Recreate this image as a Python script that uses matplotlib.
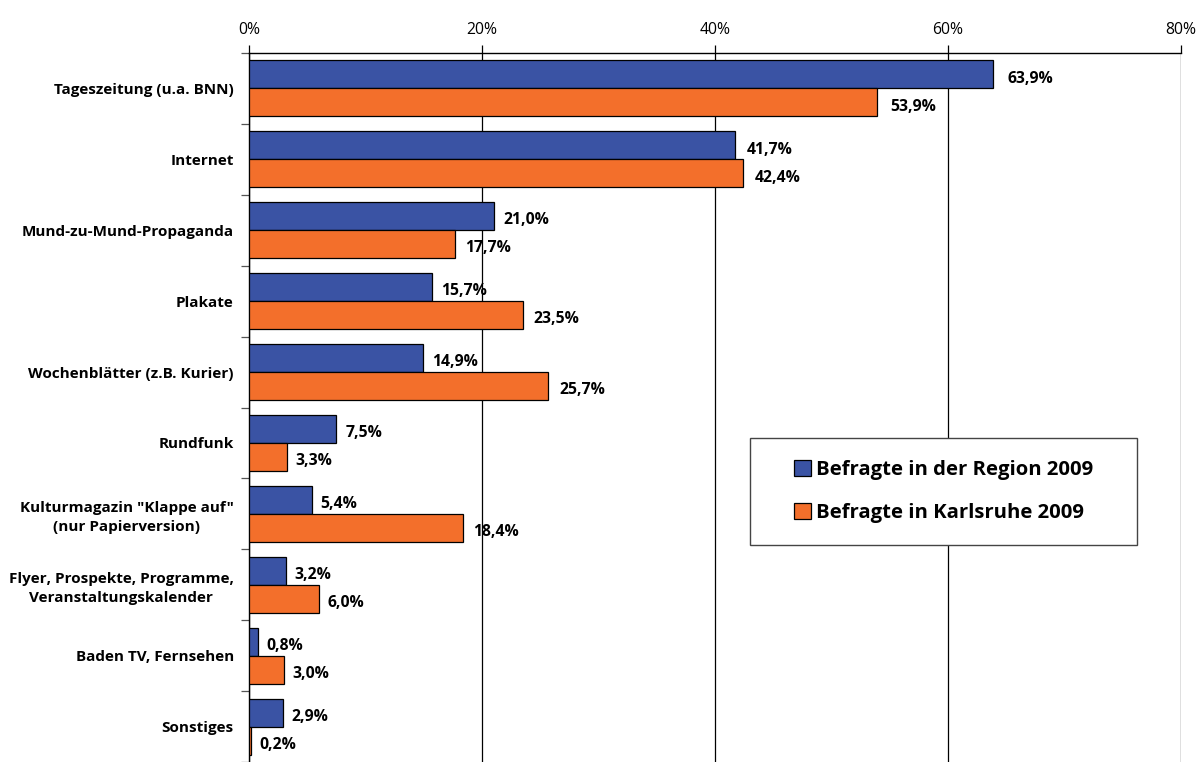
import numpy as np
import matplotlib.pyplot as plt
from matplotlib.patches import Rectangle
from matplotlib.ticker import FuncFormatter

plt.rcParams['font.family'] = ['Open Sans', 'DejaVu Sans']

kategorien = [
    'Tageszeitung (u.a. BNN)',
    'Internet',
    'Mund-zu-Mund-Propaganda',
    'Plakate',
    'Wochenblätter (z.B. Kurier)',
    'Rundfunk',
    'Kulturmagazin "Klappe auf"\n(nur Papierversion)',
    'Flyer, Prospekte, Programme,\nVeranstaltungskalender',
    'Baden TV, Fernsehen',
    'Sonstiges',
]
region_2009 = [63.9, 41.7, 21.0, 15.7, 14.9, 7.5, 5.4, 3.2, 0.8, 2.9]
karlsruhe_2009 = [53.9, 42.4, 17.7, 23.5, 25.7, 3.3, 18.4, 6.0, 3.0, 0.2]
serien = ['Befragte in der Region 2009', 'Befragte in Karlsruhe 2009']
farben = ['#3A53A4', '#F36F2B']

fig = plt.figure(figsize=(11.99, 7.62), dpi=100)
ax = fig.add_axes([0.2077, 0.0, 0.7773, 0.9304])

y = np.arange(len(kategorien))
h = 0.395
for i, (werte, farbe, name) in enumerate(zip([region_2009, karlsruhe_2009], farben, serien)):
    pos = y - h / 2 + i * h
    ax.barh(pos, werte, height=h, color=farbe, edgecolor='black', linewidth=0.9,
            label=name, zorder=3)
    for p, v in zip(pos, werte):
        ax.annotate(f'{v:.1f}%'.replace('.', ','), xy=(v, p), xytext=((8 + 0.1 * v) * 0.72, -3),
                    textcoords='offset points', va='center', ha='left',
                    fontsize=11.3, fontweight='bold', zorder=4)

ax.set_xlim(0, 80)
ax.set_ylim(len(kategorien) - 0.5, -0.5)
ax.xaxis.tick_top()
ax.set_xticks([0, 20, 40, 60, 80])
ax.xaxis.set_major_formatter(FuncFormatter(lambda v, _: f'{v:.0f}%'))
ax.tick_params(axis='x', length=6, width=0.9, labelsize=11.3, pad=5, colors='black')
ax.grid(axis='x', color='black', linewidth=0.9, zorder=0)

ax.set_yticks(y)
ax.set_yticklabels(kategorien, fontsize=11.0, fontweight='bold', ha='right',
                   multialignment='center', linespacing=1.45)
ax.tick_params(axis='y', length=0, pad=11)
ax.set_yticks(np.arange(len(kategorien) + 1) - 0.5, minor=True)
ax.tick_params(axis='y', which='minor', length=6, width=0.9, color='#555555')

for s in ['bottom', 'right']:
    ax.spines[s].set_visible(False)
ax.spines['left'].set_linewidth(1.0)
ax.spines['top'].set_linewidth(1.0)

# Legendenrahmen
fig.patches.append(Rectangle((0.6255, 0.2848), 0.3228, 0.1404, transform=fig.transFigure,
                             facecolor='white', edgecolor='#444444', linewidth=1.0, zorder=5))
leg = fig.legend(loc='center', bbox_to_anchor=(0.787, 0.355),
                 prop={'weight': 'bold', 'size': 14.6}, frameon=False,
                 handlelength=0.85, handleheight=0.85, handletextpad=0.25,
                 labelspacing=1.15, borderpad=0)
leg.set_zorder(6)

fig.savefig('out.png', dpi=100)
